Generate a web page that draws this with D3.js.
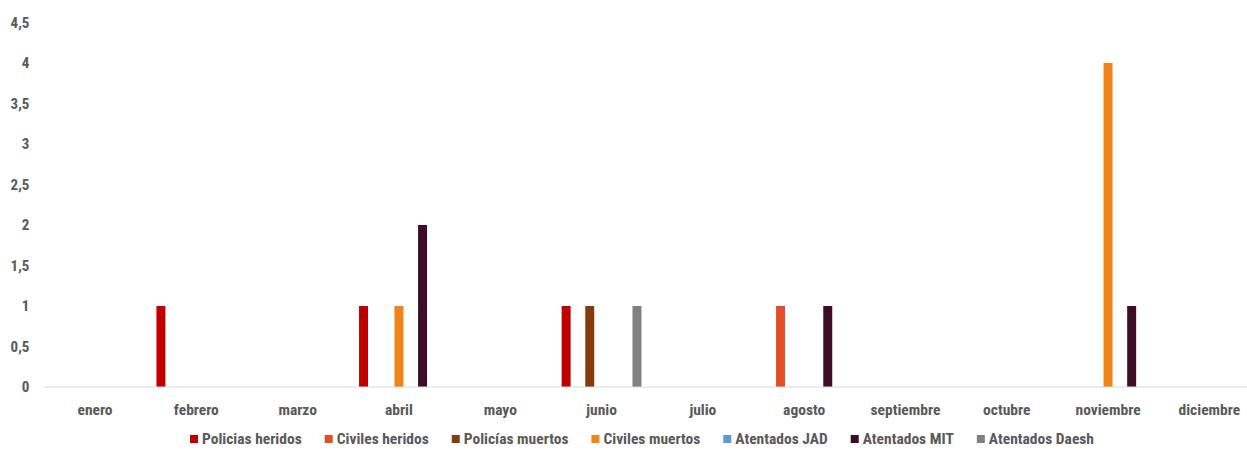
<!DOCTYPE html>
<html>
<head>
<meta charset="utf-8">
<script src="https://cdn.jsdelivr.net/npm/d3@7"></script>
<style>
  html, body { margin: 0; padding: 0; background: #ffffff; }
  svg text { font-family: "Liberation Sans Narrow", "Roboto Condensed", "DejaVu Sans Condensed", sans-serif; font-weight: bold; fill: #595959; }
</style>
</head>
<body>
<svg id="chart" width="1247" height="450"></svg>
<script>
// Months on the x axis
const months = ["enero", "febrero", "marzo", "abril", "mayo", "junio", "julio",
  "agosto", "septiembre", "octubre", "noviembre", "diciembre"];

// Series names and colours
const seriesNames = ["Policias heridos", "Civiles heridos", "Policías muertos",
  "Civiles muertos", "Atentados JAD", "Atentados MIT", "Atentados Daesh"];
const seriesColors = ["#C00000", "#E24F25", "#843C0C", "#F0831A", "#5B9BD5", "#3F0C27", "#808080"];

// Monthly values per series
const policiasHeridos = [0, 1, 0, 1, 0, 1, 0, 0, 0, 0, 0, 0];
const civilesHeridos  = [0, 0, 0, 0, 0, 0, 0, 1, 0, 0, 0, 0];
const policiasMuertos = [0, 0, 0, 0, 0, 1, 0, 0, 0, 0, 0, 0];
const civilesMuertos  = [0, 0, 0, 1, 0, 0, 0, 0, 0, 0, 4, 0];
const atentadosJAD    = [0, 0, 0, 0, 0, 0, 0, 0, 0, 0, 0, 0];
const atentadosMIT    = [0, 0, 0, 2, 0, 0, 0, 1, 0, 0, 1, 0];
const atentadosDaesh  = [0, 0, 0, 0, 0, 1, 0, 0, 0, 0, 0, 0];

// Y axis ticks
const yTicks = [0, 0.5, 1, 1.5, 2, 2.5, 3, 3.5, 4, 4.5];

const seriesValues = [policiasHeridos, civilesHeridos, policiasMuertos,
  civilesMuertos, atentadosJAD, atentadosMIT, atentadosDaesh];

const svg = d3.select("#chart");
const plotLeft = 44.4, plotRight = 1260, plotTop = 22.5, plotBottom = 387;
const labelSize = 15.5;

const x0 = d3.scaleBand().domain(months).range([plotLeft, plotRight])
  .paddingInner(0.212).paddingOuter(0.106);
const x1 = d3.scaleBand().domain(seriesNames).range([0, x0.bandwidth()])
  .paddingInner(0.24);
const y = d3.scaleLinear().domain([0, 4.5]).range([plotBottom, plotTop]);

const fmt = v => String(v).replace(".", ",");

// Y axis labels (no line, no ticks)
const yAxis = svg.append("g")
  .attr("transform", `translate(${plotLeft},0)`)
  .call(d3.axisLeft(y).tickValues(yTicks).tickFormat(fmt).tickSize(0).tickPadding(15));
yAxis.select(".domain").remove();
yAxis.selectAll("text").attr("font-size", 15).attr("font-family", null);

// Bars
const groups = svg.append("g").selectAll("g")
  .data(months)
  .join("g")
  .attr("transform", d => `translate(${x0(d)},0)`);

groups.selectAll("rect")
  .data((m, i) => seriesNames.map((s, k) => ({ s, v: seriesValues[k][i], c: seriesColors[k] })))
  .join("rect")
  .filter(d => d.v > 0)
  .attr("x", d => x1(d.s))
  .attr("width", x1.bandwidth())
  .attr("y", d => y(d.v))
  .attr("height", d => y(0) - y(d.v))
  .attr("fill", d => d.c);

// Baseline
svg.append("line")
  .attr("x1", plotLeft).attr("x2", 1247)
  .attr("y1", y(0)).attr("y2", y(0))
  .attr("stroke", "#d9d9d9").attr("stroke-width", 1);

// X axis labels
const xAxis = svg.append("g")
  .attr("transform", `translate(0,${plotBottom})`)
  .call(d3.axisBottom(x0.copy().paddingInner(0).paddingOuter(0)).tickSize(0).tickPadding(17));
xAxis.select(".domain").remove();
xAxis.selectAll("text").attr("font-size", labelSize).attr("font-family", null);

// Legend
const legend = svg.append("g").attr("transform", "translate(0,442)");
const items = legend.selectAll("g").data(seriesNames).join("g");
items.append("rect")
  .attr("width", 8).attr("height", 8).attr("y", -7)
  .attr("fill", (d, i) => seriesColors[i]);
items.append("text")
  .attr("x", 12).attr("y", 0).attr("dy", "0.12em")
  .attr("font-size", labelSize)
  .text(d => d);
let cursor = 0;
const positions = [];
items.each(function () {
  const w = 12 + this.querySelector("text").getComputedTextLength();
  positions.push(cursor);
  cursor += w + 23;
});
const total = cursor - 23;
const start = 642 - total / 2;
items.attr("transform", (d, i) => `translate(${start + positions[i]},0)`);
</script>
</body>
</html>
